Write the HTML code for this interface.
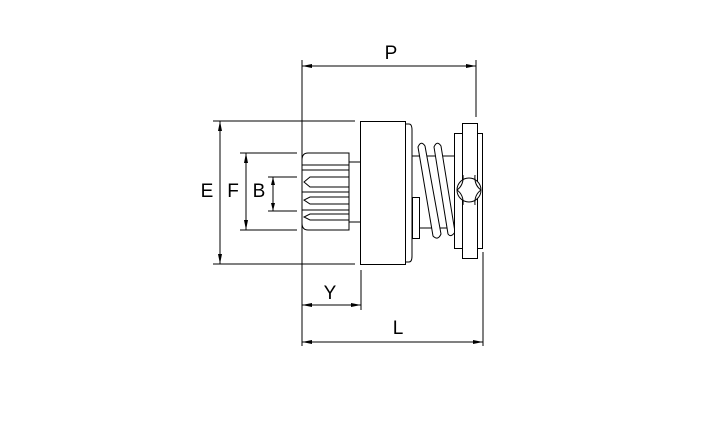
<!DOCTYPE html>
<html><head><style>body{margin:0;background:#fff}svg{display:block}</style></head>
<body>
<svg width="709" height="443" viewBox="0 0 709 443" xmlns="http://www.w3.org/2000/svg" font-family="Liberation Sans, sans-serif">
<g stroke="#000" stroke-width="1" fill="none">
<!-- extension lines -->
<line x1="302" y1="60" x2="302" y2="346"/>
<line x1="476" y1="60" x2="476" y2="117"/>
<line x1="483" y1="252" x2="483" y2="346"/>
<line x1="361" y1="270" x2="361" y2="310"/>
<!-- P -->
<line x1="302" y1="66" x2="476" y2="66"/>
<!-- L -->
<line x1="302" y1="342" x2="483" y2="342"/>
<!-- Y -->
<line x1="302" y1="305" x2="361" y2="305"/>
<!-- E -->
<line x1="213" y1="121" x2="355" y2="121"/>
<line x1="213" y1="264" x2="355" y2="264"/>
<line x1="220" y1="121" x2="220" y2="264"/>
<!-- F -->
<line x1="240" y1="153" x2="297" y2="153"/>
<line x1="240" y1="230" x2="297" y2="230"/>
<line x1="246" y1="153" x2="246" y2="230"/>
<!-- B -->
<line x1="268" y1="177" x2="297" y2="177"/>
<line x1="268" y1="211" x2="297" y2="211"/>
<line x1="273" y1="177" x2="273" y2="211"/>
<!-- pinion -->
<path d="M349,153 H308 Q302,153 302,160 V223 Q302,230 308,230 H349 Z"/>
<line x1="302" y1="165" x2="349" y2="165"/>
<line x1="302" y1="170" x2="349" y2="170"/>
<path d="M349,177 H310 L304,182 L310,187 H349"/>
<line x1="302" y1="192" x2="349" y2="192"/>
<path d="M349,197 H310 L304,200 L310,204 H349"/>
<line x1="302" y1="210" x2="349" y2="210"/>
<path d="M349,214 H310 L304,217 L310,220 H349"/>
<line x1="349" y1="162" x2="360" y2="162"/>
<line x1="349" y1="222" x2="360" y2="222"/>
<!-- body -->
<rect x="360.5" y="121.5" width="45" height="143"/>
<path d="M405,124 H409 Q412,124 412,130 V256 Q412,262 409,262 H405"/>
<!-- shaft -->
<line x1="412" y1="156" x2="455" y2="156"/>
<line x1="420" y1="228" x2="455" y2="228"/>
<rect x="412.5" y="197.5" width="7" height="41"/>
<!-- spring -->
<path d="M418,147 Q421,140 425,146 L441,234 Q438,241 433,236 Z" fill="#fff"/>
<path d="M434,147 Q437,140 441,146 L455,232 Q451,238 448,234 Z" fill="#fff"/>
<!-- disk -->
<rect x="454.5" y="133.5" width="28" height="115" fill="#fff"/>
<rect x="462.5" y="123.5" width="15" height="135" fill="#fff"/>
<circle cx="469" cy="190" r="12" fill="#fff"/>
<path d="M463,175 Q464,185 457,190 M475,175 Q474,185 481,190 M463,205 Q464,195 457,190 M475,205 Q474,195 481,190"/>
</g>
<g fill="#000">
<path d="M302,66 l10,-2 v4z M476,66 l-10,-2 v4z"/>
<path d="M302,342 l10,-2 v4z M483,342 l-10,-2 v4z"/>
<path d="M302,305 l10,-2 v4z M361,305 l-10,-2 v4z"/>
<path d="M220,121 l-2,10 h4z M220,264 l-2,-10 h4z"/>
<path d="M246,153 l-2,10 h4z M246,230 l-2,-10 h4z"/>
<path d="M273,177 l-2,8 h4z M273,211 l-2,-8 h4z"/>
</g>
<g font-size="19" fill="#000" text-anchor="middle">
<text x="391" y="59">P</text>
<text x="207" y="197">E</text>
<text x="233" y="197">F</text>
<text x="259" y="197">B</text>
<text x="330" y="299">Y</text>
<text x="398" y="334">L</text>
</g>
</svg>
</body></html>
